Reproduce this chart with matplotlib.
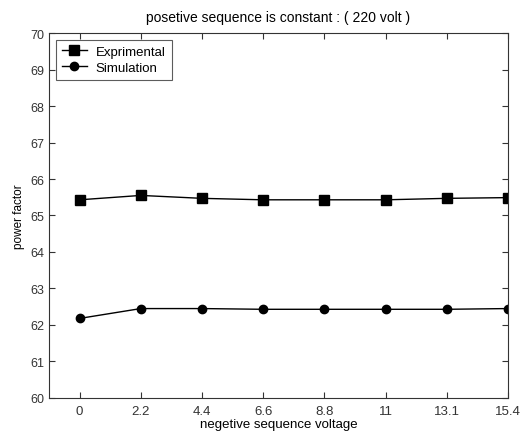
import matplotlib
matplotlib.use('Agg')
import matplotlib.pyplot as plt

# data
x_labels = ['0', '2.2', '4.4', '6.6', '8.8', '11', '13.1', '15.4']
exprimental = [65.43, 65.55, 65.47, 65.43, 65.43, 65.43, 65.47, 65.49]
simulation = [62.18, 62.45, 62.45, 62.43, 62.43, 62.43, 62.43, 62.45]

plt.rcParams['font.family'] = ['Liberation Sans', 'DejaVu Sans']

fig = plt.figure(figsize=(5.25, 4.35), dpi=100)
ax = fig.add_axes([0.0933, 0.0828, 0.8743, 0.839])

pos = list(range(len(x_labels)))
ax.plot(pos, exprimental, color='black', lw=1, marker='s', ms=6.5, label='Exprimental')
ax.plot(pos, simulation, color='black', lw=1, marker='o', ms=6, label='Simulation')

ax.set_xlim(-0.5, 7)
ax.set_ylim(60, 70)
ax.set_xticks(pos)
ax.set_xticklabels(x_labels)
ax.set_yticks(range(60, 71))

ax.tick_params(direction='in', top=True, right=True, length=4, width=0.8,
               colors='#333333', labelsize=9)
ax.tick_params(axis='x', labelsize=9.5, pad=5)
for s in ax.spines.values():
    s.set_color('#333333')
    s.set_linewidth(0.8)

ax.set_xlabel('negetive sequence voltage', fontsize=9.5, labelpad=1)
ax.set_ylabel('power factor', fontsize=8.5, labelpad=4)
ax.set_title('posetive sequence is constant : ( 220 volt )', fontsize=10, pad=9)

leg = ax.legend(loc='upper left', fontsize=9.5, fancybox=False, edgecolor='#333333',
                borderaxespad=0.5, handlelength=1.9, handletextpad=0.7,
                borderpad=0.45, labelspacing=0.3)
leg.get_frame().set_linewidth(0.8)

fig.savefig('out.png', dpi=100)
